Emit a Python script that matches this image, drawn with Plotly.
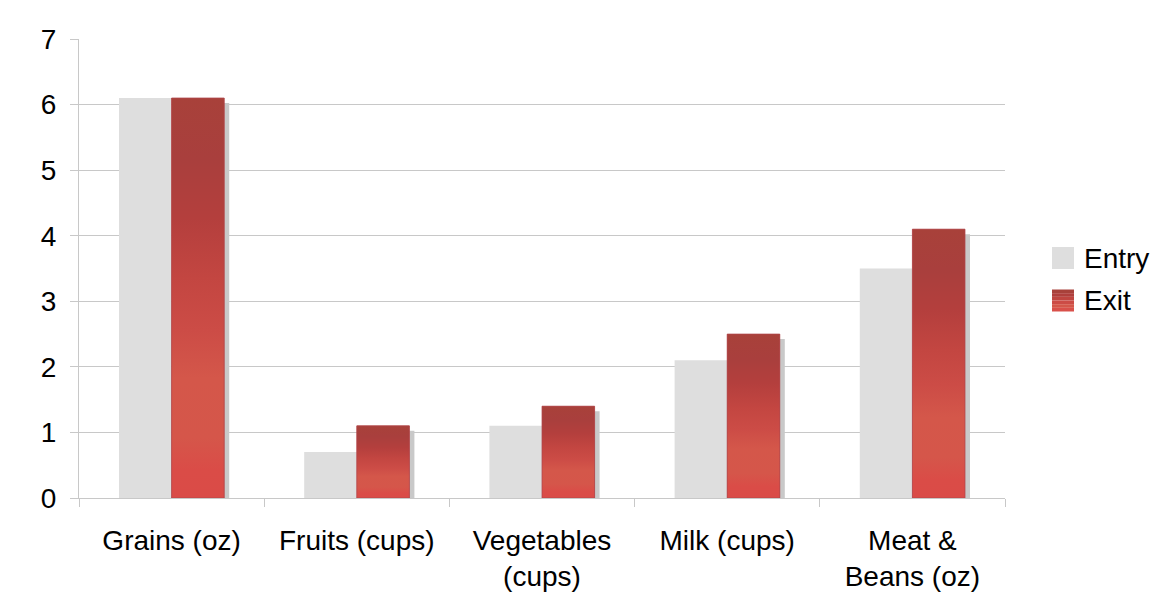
import plotly.graph_objects as go

categories = ["Grains (oz)", "Fruits (cups)", "Vegetables<br>(cups)", "Milk (cups)", "Meat &<br>Beans (oz)"]
entry_values = [6.1, 0.7, 1.1, 2.1, 3.5]
exit_values = [6.1, 1.1, 1.4, 2.5, 4.1]
y_ticks = [0, 1, 2, 3, 4, 5, 6, 7]

FONT = "Liberation Sans"
BAR_W = 0.284
SHADOW_DX = 0.027
SHADOW_DY = 0.076
ENTRY_COLOR = "#dedede"
SHADOW_COLOR = "#c9c9c9"
EXIT_MID = "#c6463f"
EXIT_SCALE = [[0.0, "#da4b47"], [0.07, "#da4c47"], [0.15, "#d5564a"], [0.3, "#d4574a"],
              [0.42, "#cc4c46"], [0.55, "#c34641"], [0.7, "#b43f3d"], [0.85, "#a93f3d"],
              [1.0, "#a8413a"]]

fig = go.Figure()

fig.add_trace(go.Bar(x=categories, y=entry_values, name="Entry", width=BAR_W, offset=-BAR_W,
                     marker=dict(color=ENTRY_COLOR, line=dict(width=0)), showlegend=False))
fig.add_trace(go.Bar(x=categories, y=[v - SHADOW_DY for v in exit_values], name="shadow",
                     width=BAR_W, offset=SHADOW_DX, hoverinfo="skip",
                     marker=dict(color=SHADOW_COLOR, line=dict(width=0)), showlegend=False))
fig.add_trace(go.Bar(x=categories, y=exit_values, name="Exit", width=BAR_W, offset=0,
                     marker=dict(color=EXIT_MID, line=dict(width=0)), showlegend=False))

# gradient overlay for Exit bars (one polygon per bar so each has its own gradient)
for i, v in enumerate(exit_values):
    fig.add_trace(go.Scatter(
        x=[i, i + BAR_W, i + BAR_W, i, i], y=[0, 0, v, v, 0],
        xaxis="x2", mode="lines", fill="toself",
        line=dict(width=1, color="rgba(175,70,75,0.75)"),
        fillgradient=dict(type="vertical", colorscale=EXIT_SCALE, start=0, stop=v),
        hoverinfo="skip", showlegend=False))

axis_grey = "#c8c8c8"
# the page body adds an 8px margin, so the figure is 8px smaller and shifted
fig.update_layout(
    width=1154, height=591,
    margin=dict(l=71, r=157, t=31, b=101),
    paper_bgcolor="white", plot_bgcolor="white",
    barmode="overlay",
    font=dict(family=FONT, size=28, color="black"),
    xaxis=dict(type="category", categoryorder="array", categoryarray=categories,
               range=[-0.5, len(categories) - 0.5], automargin=False,
               showline=True, linecolor=axis_grey, linewidth=1,
               ticks="outside", tickson="boundaries", ticklen=8, tickcolor=axis_grey,
               showgrid=False, tickfont=dict(family=FONT, size=28, color="black"),
               ticklabelstandoff=17),
    xaxis2=dict(overlaying="x", range=[-0.5, len(categories) - 0.5], visible=False),
    yaxis=dict(range=[0, 7], tickvals=y_ticks, automargin=False,
               showline=True, linecolor=axis_grey, linewidth=1,
               ticks="outside", ticklen=8, tickcolor=axis_grey,
               showgrid=True, gridcolor=axis_grey, gridwidth=1, zeroline=False,
               tickfont=dict(family=FONT, size=28, color="black"), ticklabelstandoff=8),
    showlegend=False,
)

# window-pixel -> paper coordinates (plot area spans 79..1005 x 39..498 in the window)
def px_x(p):
    return (p - 79) / 926

def px_y(p):
    return (498 - p) / 459

# faint outer frame
fig.add_shape(type="rect", xref="paper", yref="paper",
              x0=px_x(5), x1=px_x(1175), y0=px_y(610), y1=px_y(7),
              line=dict(color="#eeeeee", width=1), fillcolor="rgba(0,0,0,0)", layer="below")

# manual legend
fig.add_shape(type="rect", xref="paper", yref="paper",
              x0=px_x(1052), x1=px_x(1074), y0=px_y(269), y1=px_y(247),
              line=dict(width=0), fillcolor=ENTRY_COLOR)
bands = ["#a8413a", "#b03f3c", "#bf4540", "#cc4c46", "#d4574a", "#d9504a"]
top, bottom = 289.5, 311.5
h = (bottom - top) / len(bands)
for k, c in enumerate(bands):
    fig.add_shape(type="rect", xref="paper", yref="paper",
                  x0=px_x(1052), x1=px_x(1074), y0=px_y(top + (k + 1) * h), y1=px_y(top + k * h),
                  line=dict(width=0), fillcolor=c)
for label, yc in [("Entry", 258.5), ("Exit", 300.5)]:
    fig.add_annotation(text=label, xref="paper", yref="paper", x=px_x(1082), y=px_y(yc),
                       xanchor="left", yanchor="middle", showarrow=False,
                       font=dict(family=FONT, size=28, color="black"))

fig.write_html("out.html")
